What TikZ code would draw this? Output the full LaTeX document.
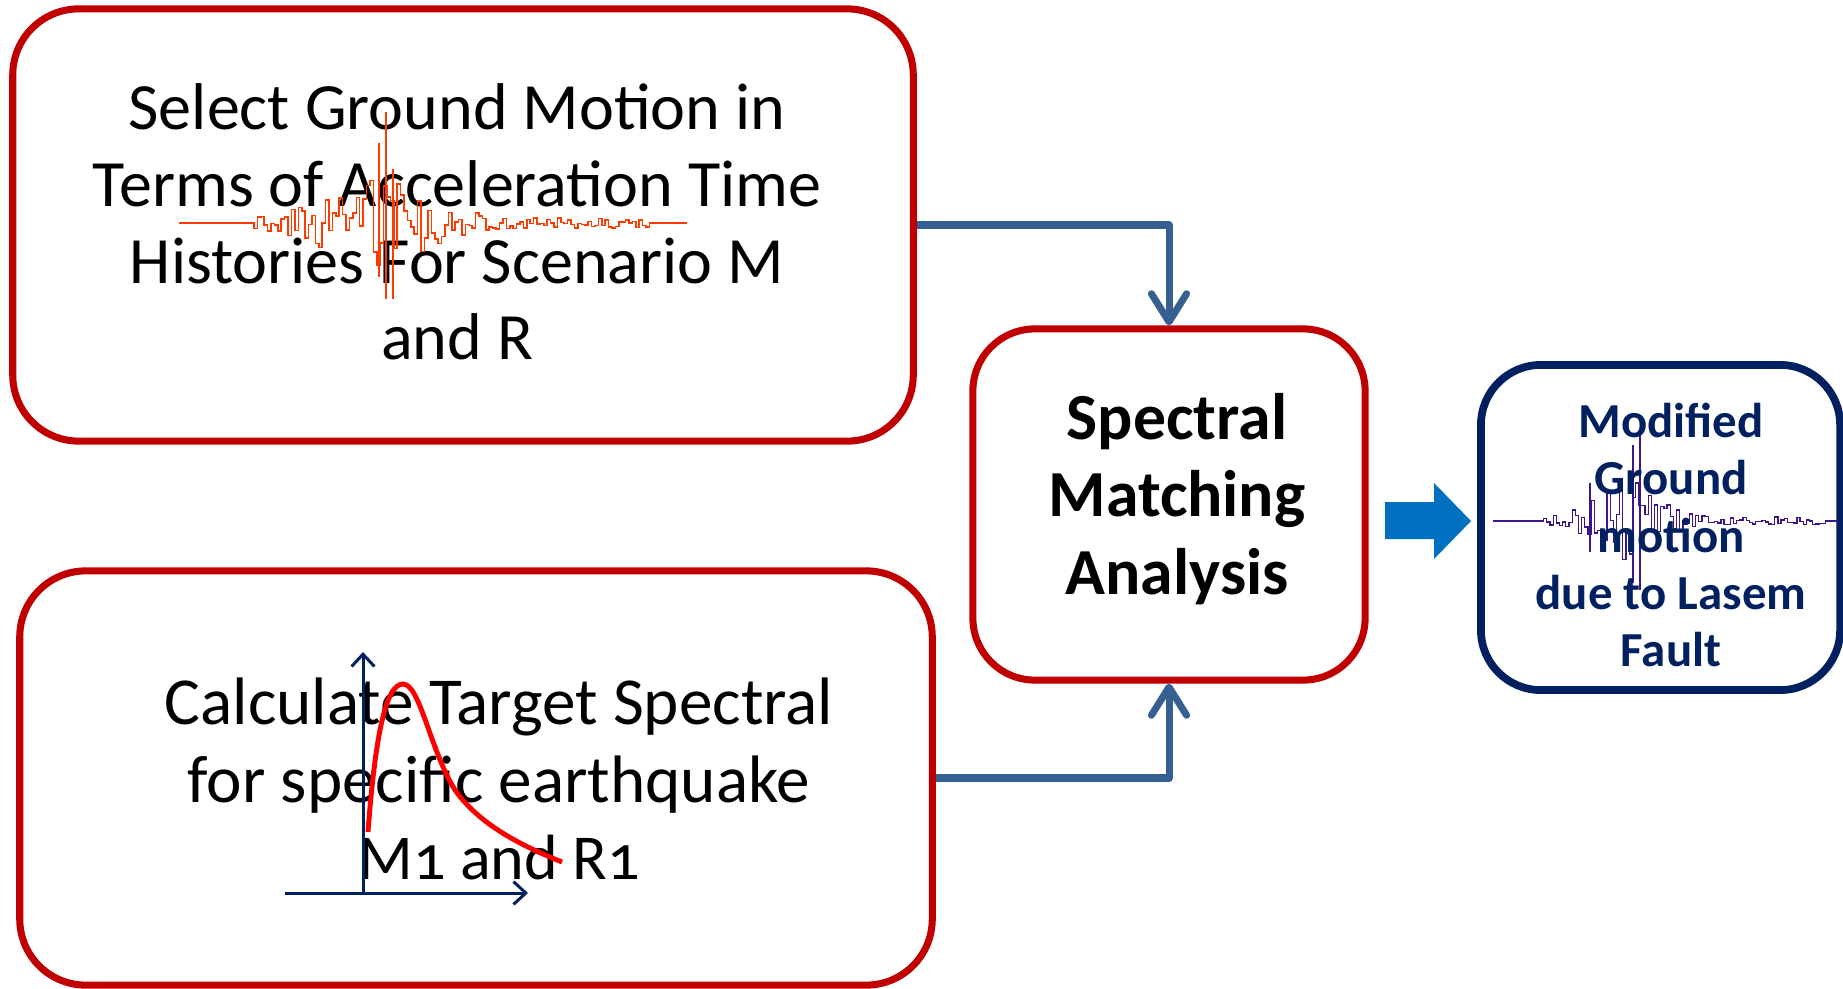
\documentclass[tikz,border=0pt]{standalone}
\usepackage{fontspec}
\setmainfont{Carlito}
\usetikzlibrary{arrows.meta}
\definecolor{boxred}{RGB}{192,0,0}
\definecolor{connblue}{RGB}{55,96,146}
\definecolor{navy}{RGB}{0,32,96}
\definecolor{arrowblue}{RGB}{0,112,192}
\definecolor{seisred}{RGB}{255,60,0}
\definecolor{seispurple}{RGB}{60,20,140}
\begin{document}
\begin{tikzpicture}[x=0.01cm,y=-0.01cm,
  redbox/.style={draw=boxred, line width=2pt, rounded corners=0.66cm, inner sep=0pt},
  navybox/.style={draw=navy, line width=2.2pt, rounded corners=0.6cm, inner sep=0pt},
  bodytext/.style={align=center, font=\fontsize{18.8}{21.8}\selectfont, inner sep=0pt},
  boldtext/.style={align=center, font=\bfseries\fontsize{18.7}{22}\selectfont, inner sep=0pt},
  navytext/.style={align=center, text=navy, font=\bfseries\fontsize{13.9}{16.3}\selectfont, inner sep=0pt},
  conn/.style={draw=connblue, line width=2pt, line join=round, -{Straight Barb[length=8pt,width=10pt,round]}},
  axisline/.style={draw=navy, line width=0.85pt, -{Straight Barb[length=3.5pt,width=6.5pt]}},
]
\useasboundingbox (0,0) rectangle (1843,988);

% boxes
\node[redbox, minimum width=9cm, minimum height=4.32cm] (top) at (463,225) {};
\node[redbox, minimum width=9.12cm, minimum height=4.14cm] (bot) at (476,778) {};
\node[redbox, rounded corners=0.62cm, minimum width=3.92cm, minimum height=3.51cm] (mid) at (1169,504.5) {};
\node[navybox, minimum width=3.59cm, minimum height=3.25cm] (res) at (1660.5,527.5) {};

% top text and seismogram
\node[bodytext] (toptext) at (457,222) {Select Ground Motion in\\Terms of Acceleration Time\\Histories For Scenario M\\and R};
\pgfmathsetseed{7}
\draw[seisred, line width=0.45pt, const plot, samples=150, domain=179:687, variable=\t]
  plot (\t, {223 + ((\t>252)*(\t<648))*(5+40*exp(-(((\t-378)/70)^2)))*rand});
\draw[seisred, line width=0.6pt] (386,112) -- (386,299) (379,143) -- (379,277) (393,169) -- (393,299);

% bottom text and spectrum sketch
\node[bodytext, font=\fontsize{19.1}{22}\selectfont] (bottext) at (499,779) {Calculate Target Spectral\\for specific earthquake\\{\fontsize{18.2}{22}\selectfont M\addfontfeatures{Numbers=OldStyle}1 and R1}};
\coordinate (origin) at (363,893);
\coordinate (ytip) at (363,652);
\coordinate (xstart) at (285,893);
\coordinate (xtip) at (528,893);
\draw[axisline] (origin) -- (ytip);
\draw[axisline] (xstart) -- (xtip);
\draw[red, line width=1.4pt] (368,832) .. controls (375,740) and (385,684) .. (403,684)
  .. controls (420,684) and (430,750) .. (455,790) .. controls (480,825) and (520,845) .. (562,862);

% middle text
\node[boldtext] (midtext) at (1177,499) {Spectral\\Matching\\Analysis};

% result seismogram and text
\pgfmathsetseed{11}
\draw[seispurple, line width=0.35pt, const plot, samples=110, domain=1493:1838, variable=\t]
  plot (\t, {521 + ((\t>1543)*(\t<1825))*(4+42*exp(-(((\t-1622)/42)^2)))*rand});
\draw[seispurple, line width=0.4pt] (1640,433) -- (1640,590) (1633,445) -- (1633,583) (1590,483) -- (1590,552);
\node[navytext] (restext) at (1671,535) {Modified\\Ground\\motion\\due to Lasem\\Fault};

% connectors
\draw[conn] (top.east) -| (mid.north);
\draw[conn] (bot.east) -| (mid.south);
\fill[arrowblue] (1385,502) -- (1434,502) -- (1434,483) -- (1471,521) -- (1434,559) -- (1434,539) -- (1385,539) -- cycle;
\end{tikzpicture}
\end{document}
